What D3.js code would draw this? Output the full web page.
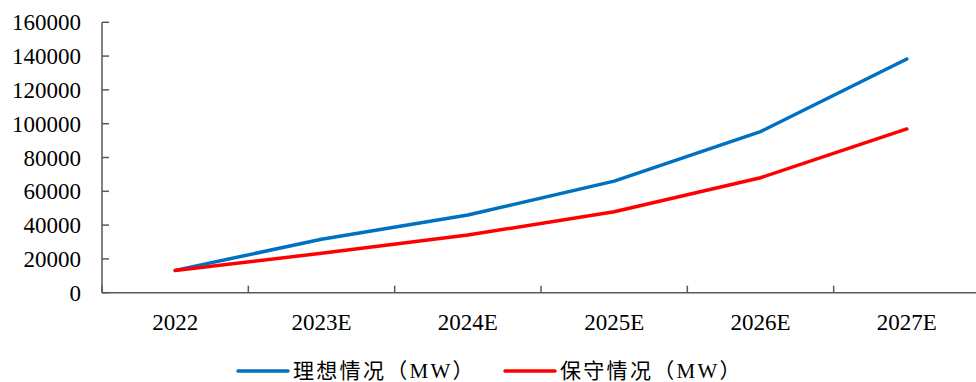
<!DOCTYPE html>
<html>
<head>
<meta charset="utf-8">
<script src="https://cdn.jsdelivr.net/npm/d3@7"></script>
<style>
  html, body { margin: 0; padding: 0; background: #fff; }
  svg { display: block; }
</style>
</head>
<body>
<svg id="chart" width="976" height="382"></svg>
<script>
// Installed capacity outlook, two scenarios (MW)
const categories = ["2022", "2023E", "2024E", "2025E", "2026E", "2027E"];
const idealValues = [13200, 31600, 46000, 66000, 95300, 138300];
const conservativeValues = [13200, 23300, 34100, 47900, 68000, 96900];
const seriesNames = ["理想情况（MW）", "保守情况（MW）"];
const seriesColors = ["#0070C0", "#FF0000"];
const yTicks = [0, 20000, 40000, 60000, 80000, 100000, 120000, 140000, 160000];

const svg = d3.select("#chart");
const font = "'Liberation Serif', 'Times New Roman', 'Noto Sans CJK SC', serif";
const axisColor = "#595959";

const x = d3.scaleBand().domain(categories).range([102, 980]);
const y = d3.scaleLinear().domain([0, 160000]).range([292.7, 22.3]);

// Y axis: inward ticks, labels on the left
const yAxis = svg.append("g").attr("transform", "translate(102,0)");
yAxis.append("line")
  .attr("x1", 0).attr("x2", 0)
  .attr("y1", y(160000)).attr("y2", y(0))
  .attr("stroke", axisColor).attr("stroke-width", 1.5);
yAxis.selectAll(".tick").data(yTicks).join("line")
  .attr("x1", 0).attr("x2", 7)
  .attr("y1", d => y(d)).attr("y2", d => y(d))
  .attr("stroke", axisColor).attr("stroke-width", 1.5);
yAxis.selectAll("text").data(yTicks).join("text")
  .attr("x", -21).attr("y", d => y(d))
  .attr("dy", "0.35em")
  .attr("text-anchor", "end")
  .attr("font-family", font).attr("font-size", 23).attr("fill", "#000")
  .text(d => d);

// X axis: inward ticks at band boundaries
const xAxis = svg.append("g").attr("transform", `translate(0,${y(0)})`);
xAxis.append("line")
  .attr("x1", 102).attr("x2", 980)
  .attr("y1", 0).attr("y2", 0)
  .attr("stroke", axisColor).attr("stroke-width", 1.5);
const bounds = categories.map(c => x(c)).concat([x.range()[1]]);
xAxis.selectAll(".tick").data(bounds).join("line")
  .attr("x1", d => d).attr("x2", d => d)
  .attr("y1", 0).attr("y2", -7)
  .attr("stroke", axisColor).attr("stroke-width", 1.5);
xAxis.selectAll("text").data(categories).join("text")
  .attr("x", d => x(d) + x.bandwidth() / 2)
  .attr("y", 29)
  .attr("dy", "0.35em")
  .attr("text-anchor", "middle")
  .attr("font-family", font).attr("font-size", 23).attr("fill", "#000")
  .text(d => d);

// Lines
const line = d3.line()
  .x((d, i) => x(categories[i]) + x.bandwidth() / 2)
  .y(d => y(d));
[idealValues, conservativeValues].forEach((vals, i) => {
  svg.append("path")
    .datum(vals)
    .attr("d", line)
    .attr("fill", "none")
    .attr("stroke", seriesColors[i])
    .attr("stroke-width", 3.5)
    .attr("stroke-linecap", "round")
    .attr("stroke-linejoin", "round");
});

// Legend
const legendX = [238, 505];
const legend = svg.append("g");
seriesNames.forEach((name, i) => {
  legend.append("line")
    .attr("x1", legendX[i]).attr("x2", legendX[i] + 50)
    .attr("y1", 371).attr("y2", 371)
    .attr("stroke", seriesColors[i]).attr("stroke-width", 3.5)
    .attr("stroke-linecap", "round");
  legend.append("text")
    .attr("x", legendX[i] + 55).attr("y", 371)
    .attr("dy", "0.35em")
    .attr("font-family", font).attr("font-size", 21)
    .attr("letter-spacing", "2.3px").attr("fill", "#000")
    .text(name);
});
</script>
</body>
</html>
